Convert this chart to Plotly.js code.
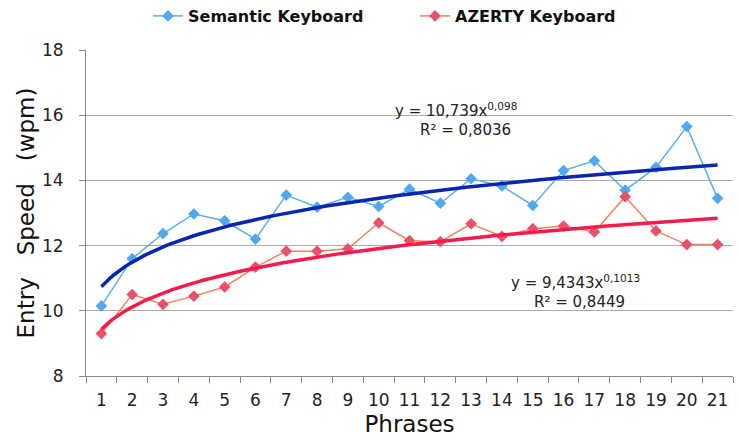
<!DOCTYPE html>
<html><head><meta charset="utf-8">
<script src="https://cdn.plot.ly/plotly-3.0.1.min.js"></script>
<style>html,body{margin:0;padding:0;background:#fff}#c{width:739px;height:441px}</style>
</head><body><div id="c"></div>
<script>
const phrases = [1,2,3,4,5,6,7,8,9,10,11,12,13,14,15,16,17,18,19,20,21];
const semantic = [10.15,11.6,12.37,12.97,12.76,12.2,13.55,13.18,13.48,13.2,13.73,13.3,14.05,13.83,13.23,14.3,14.6,13.7,14.4,15.65,13.45];
const azerty = [9.3,10.5,10.2,10.45,10.73,11.34,11.83,11.83,11.9,12.7,12.15,12.12,12.67,12.28,12.52,12.6,12.42,13.5,12.45,12.03,12.03];
// power trendlines as printed on the chart: y = a * x^b
const semanticFit = {a: 10.739, b: 0.098};
const azertyFit = {a: 9.4343, b: 0.1013};

function trend(fit){
  const xs=[], ys=[];
  for(let i=0;i<=200;i++){const x=1+i*0.1; xs.push(x); ys.push(fit.a*Math.pow(x,fit.b));}
  return {x:xs,y:ys};
}
const ts = trend(semanticFit), ta = trend(azertyFit);
const F = 'DejaVu Sans, Verdana, sans-serif';
const data = [
  {x:phrases,y:semantic,name:'Semantic Keyboard',mode:'lines+markers',
   line:{color:'#5ab0e6',width:1.5},marker:{symbol:'diamond',size:9,color:'#52a8ec'}},
  {x:phrases,y:azerty,name:'AZERTY Keyboard',mode:'lines+markers',
   line:{color:'#f0845c',width:1.5},marker:{symbol:'diamond',size:9,color:'#ec4f6a'}},
  {x:ts.x,y:ts.y,mode:'lines',showlegend:false,hoverinfo:'skip',line:{color:'#0a26b0',width:3.5}},
  {x:ta.x,y:ta.y,mode:'lines',showlegend:false,hoverinfo:'skip',line:{color:'#f41c4c',width:3.5}},
  {x:[1],y:[8],xaxis:'x2',mode:'markers',marker:{opacity:0},showlegend:false,hoverinfo:'skip'}
];
const halfTicks = [];
for(let i=0;i<=21;i++) halfTicks.push(i+0.5);
const layout = {
  width:739,height:441,
  margin:{l:86,r:6,t:50,b:65},
  paper_bgcolor:'#fff',plot_bgcolor:'#fff',
  font:{family:F,color:'#222'},
  showlegend:true,
  legend:{orientation:'h',xref:'container',yref:'container',x:148/739,xanchor:'left',y:1-16/441,yanchor:'middle',
    font:{family:F,size:16,color:'#111',weight:'bold'},entrywidth:222,entrywidthmode:'pixels'},
  xaxis:{range:[0.5,21.5],tickvals:phrases,ticktext:phrases.map(String),ticks:'',ticklabelstandoff:9,
    showgrid:false,zeroline:false,showline:true,linecolor:'#888',linewidth:1,
    tickfont:{family:F,size:17,color:'#222'},
    title:{text:'Phrases',font:{family:F,size:23,color:'#111'},standoff:6}},
  xaxis2:{overlaying:'x',matches:'x',range:[0.5,21.5],tickvals:halfTicks,ticks:'outside',ticklen:6,
    tickcolor:'#888',showticklabels:false,showgrid:false,zeroline:false,showline:false,side:'bottom'},
  yaxis:{range:[8,18],dtick:2,tick0:8,ticks:'outside',ticklen:6,tickcolor:'#888',ticklabelstandoff:12,
    showgrid:true,gridcolor:'#aaa',gridwidth:1,zeroline:false,showline:true,linecolor:'#888',
    tickfont:{family:F,size:17,color:'#222'},
    title:{text:'Entry\u00a0\u00a0\u00a0Speed\u00a0\u00a0\u00a0(wpm)',font:{family:F,size:23,color:'#111'},standoff:0}},
  annotations:[
    {xref:'paper',yref:'paper',xanchor:'center',yanchor:'middle',x:(456-86)/647,y:(376-110)/326,text:'y = 10,739x<sup>0,098</sup>',
     showarrow:false,font:{family:F,size:15,color:'#222'}},
    {xref:'paper',yref:'paper',xanchor:'center',yanchor:'middle',x:(465-86)/647,y:(376-130)/326,text:'R² = 0,8036',
     showarrow:false,font:{family:F,size:15,color:'#222'}},
    {xref:'paper',yref:'paper',xanchor:'center',yanchor:'middle',x:(575-86)/647,y:(376-282)/326,text:'y = 9,4343x<sup>0,1013</sup>',
     showarrow:false,font:{family:F,size:15,color:'#222'}},
    {xref:'paper',yref:'paper',xanchor:'center',yanchor:'middle',x:(579-86)/647,y:(376-302)/326,text:'R² = 0,8449',
     showarrow:false,font:{family:F,size:15,color:'#222'}}
  ]
};
Plotly.newPlot('c',data,layout,{displayModeBar:false,staticPlot:true});
</script></body></html>
